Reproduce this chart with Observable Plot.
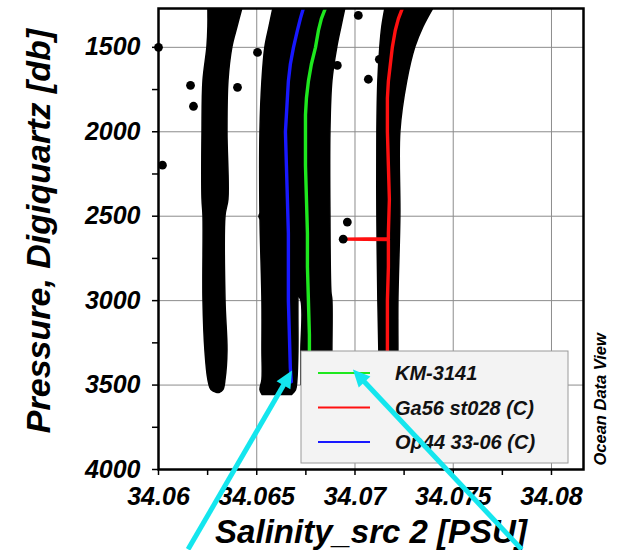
<!DOCTYPE html>
<html>
<head>
<meta charset="utf-8">
<script src="https://cdn.jsdelivr.net/npm/d3@7"></script>
<script src="https://cdn.jsdelivr.net/npm/@observablehq/plot@0.6"></script>
<style>
  html, body { margin: 0; padding: 0; background: white; }
  #chart { width: 621px; height: 550px; }
</style>
</head>
<body>
<div id="chart"></div>
<script>
// ---- axis ticks ----
const xTicks = [34.06, 34.065, 34.07, 34.075, 34.08];
const xTickLabels = ["34.06", "34.065", "34.07", "34.075", "34.08"];
const xMinorTicks = [34.0625, 34.0675, 34.0725, 34.0775];
const yTicks = [1500, 2000, 2500, 3000, 3500, 4000];
const yTickLabels = ["1500", "2000", "2500", "3000", "3500", "4000"];
const yMinorTicks = [1750, 2250, 2750, 3250, 3750];

// ---- black scatter clouds (left / right edge of the dense dots per pressure) ----
const cloudAPressure = [1270, 1380, 1500, 1700, 2000, 2400, 2500, 3000, 3300, 3470, 3530, 3547];
const cloudALeft  = [34.06254, 34.06254, 34.06249, 34.06229, 34.06224, 34.06224, 34.06229, 34.06229, 34.06239, 34.06254, 34.06270, 34.06300];
const cloudARight = [34.06427, 34.06402, 34.06376, 34.06356, 34.06351, 34.06356, 34.06341, 34.06341, 34.06351, 34.06341, 34.06330, 34.06310];

const cloudBPressure = [1270, 1380, 1500, 1700, 2000, 2500, 3000, 3300, 3470, 3530, 3559];
const cloudBLeft  = [34.06585, 34.06565, 34.06544, 34.06529, 34.06519, 34.06519, 34.06529, 34.06529, 34.06529, 34.06519, 34.06530];
const cloudBRight = [34.06800, 34.06780, 34.06760, 34.06730, 34.06720, 34.06720, 34.06712, 34.06712, 34.06707, 34.06700, 34.06680];

const cloudCPressure = [1270, 1380, 1500, 1700, 2000, 2500, 2950, 3000, 3300, 3500];
const cloudCLeft  = [34.06760, 34.06740, 34.06720, 34.06710, 34.06700, 34.06700, 34.06700, 34.06727, 34.06727, 34.06727];
const cloudCRight = [34.06951, 34.06931, 34.06910, 34.06885, 34.06875, 34.06875, 34.06880, 34.06885, 34.06885, 34.06885];

const cloudDPressure = [1270, 1380, 1500, 1700, 2000, 2500, 3000, 3300, 3500];
const cloudDLeft  = [34.07155, 34.07139, 34.07129, 34.07119, 34.07114, 34.07114, 34.07119, 34.07124, 34.07124];
const cloudDRight = [34.07399, 34.07348, 34.07307, 34.07266, 34.07231, 34.07231, 34.07221, 34.07221, 34.07221];

// ---- isolated black points ----
const outlierSalinity = [34.0600, 34.0602, 34.06163, 34.06178, 34.06402, 34.06504, 34.0653, 34.07017, 34.0691, 34.07068, 34.06961, 34.0694, 34.07124];
const outlierPressure = [1500, 2198, 1725, 1849, 1737, 1530, 2500, 1311, 1607, 1689, 2535, 2636, 1571];

// ---- station profiles ----
const km3141Pressure = [1270, 1330, 1400, 1500, 1600, 1700, 1800, 1900, 2000, 2200, 2400, 2600, 2800, 3000, 3200, 3400];
const km3141Salinity = [34.06849, 34.06829, 34.06814, 34.06799, 34.06778, 34.06763, 34.06753, 34.06748, 34.06748, 34.06748, 34.06753, 34.06758, 34.06758, 34.06763, 34.06768, 34.06768];

const ga56Pressure = [1270, 1330, 1400, 1500, 1600, 1700, 1800, 2000, 2200, 2400, 2600, 2633, 2636, 2639, 2800, 3000, 3200, 3400];
const ga56Salinity = [34.07241, 34.07221, 34.07205, 34.07190, 34.07180, 34.07170, 34.07165, 34.07165, 34.07170, 34.07175, 34.07170, 34.07170, 34.06941, 34.07170, 34.07170, 34.07165, 34.07165, 34.07165];

const op44Pressure = [1270, 1330, 1400, 1500, 1600, 1700, 1800, 1900, 2000, 2200, 2400, 2600, 2800, 3000, 3200, 3400, 3480];
const op44Salinity = [34.06737, 34.06722, 34.06707, 34.06687, 34.06671, 34.06661, 34.06656, 34.06651, 34.06646, 34.06651, 34.06656, 34.06661, 34.06661, 34.06661, 34.06666, 34.06671, 34.06676];

// ---- legend ----
const legendLabels = ["KM-3141", "Ga56 st028 (C)", "Op44 33-06 (C)"];
const legendColors = ["#1ee81e", "#ff1010", "#1818ff"];

// ---- annotation arrows (tail salinity/pressure -> head salinity/pressure) ----
const arrowTailSalinity = [34.06153, 34.07851];
const arrowTailPressure = [4476, 4476];
const arrowHeadSalinity = [34.06682, 34.06992];
const arrowHeadPressure = [3417, 3411];

// build tables
const cloud = (P, L, R) => P.map((p, i) => ({p, l: L[i], r: R[i]}));
const prof = (P, S) => P.map((p, i) => ({p, s: S[i]}));
const clouds = [
  cloud(cloudAPressure, cloudALeft, cloudARight),
  cloud(cloudBPressure, cloudBLeft, cloudBRight),
  cloud(cloudCPressure, cloudCLeft, cloudCRight),
  cloud(cloudDPressure, cloudDLeft, cloudDRight)
];
const outliers = outlierSalinity.map((s, i) => ({s, p: outlierPressure[i]}));
const profiles = [
  {data: prof(km3141Pressure, km3141Salinity), color: legendColors[0]},
  {data: prof(ga56Pressure, ga56Salinity), color: legendColors[1]},
  {data: prof(op44Pressure, op44Salinity), color: legendColors[2]}
];

const FONT = "'Liberation Sans', Arial, sans-serif";

const chart = Plot.plot({
  width: 621,
  height: 550,
  marginLeft: 158,
  marginRight: 38,
  marginTop: 8,
  marginBottom: 81,
  style: {fontFamily: FONT, fontWeight: "bold", fontStyle: "italic", background: "white", color: "black"},
  x: {domain: [34.06, 34.08163]},
  y: {domain: [1270, 4000], reverse: true},
  marks: [
    Plot.gridX(xTicks, {stroke: "#8c8c8c", strokeOpacity: 1, strokeWidth: 1}),
    Plot.gridY(yTicks, {stroke: "#8c8c8c", strokeOpacity: 1, strokeWidth: 1}),
    ...clouds.map(c => Plot.areaX(c, {y: "p", x1: "l", x2: "r", fill: "black", stroke: "black", strokeWidth: 1.5, strokeLinejoin: "round", curve: "catmull-rom", clip: true})),
    ...profiles.map(pr => Plot.line(pr.data, {x: "s", y: "p", stroke: pr.color, strokeWidth: 3.4, clip: true})),
    Plot.dot(outliers, {x: "s", y: "p", r: 4.4, fill: "black"}),
    Plot.frame({stroke: "black", strokeWidth: 2.5}),
    Plot.axisX({ticks: xTicks, tickFormat: d => xTickLabels[xTicks.indexOf(d)], tickSize: 6, tickPadding: 12, fontSize: 25, label: null, strokeWidth: 1.5}),
    Plot.axisX({ticks: xMinorTicks, tickFormat: () => "", tickSize: 6, label: null, strokeWidth: 1.5}),
    Plot.axisY({ticks: yTicks, tickFormat: d => yTickLabels[yTicks.indexOf(d)], tickSize: 6, tickPadding: 12, fontSize: 25, label: null, strokeWidth: 1.5}),
    Plot.axisY({ticks: yMinorTicks, tickFormat: () => "", tickSize: 6, label: null, strokeWidth: 1.5}),
    Plot.text(["Salinity_src 2 [PSU]"], {frameAnchor: "bottom", text: d => d, textAnchor: "middle", lineAnchor: "bottom", dy: 73, fontSize: 33, fill: "black"}),
    Plot.text(["Pressure, Digiquartz [db]"], {frameAnchor: "left", text: d => d, rotate: -90, textAnchor: "middle", lineAnchor: "middle", dx: -119, dy: -8, fontSize: 34, fill: "black"}),
    Plot.text(["Ocean Data View"], {frameAnchor: "bottom-right", text: d => d, rotate: -90, textAnchor: "start", lineAnchor: "middle", dx: 17, dy: -4, fontSize: 16.5, fill: "black"})
  ]
});

document.getElementById("chart").appendChild(chart);

// overlay: legend box and arrows
const svg = d3.select(chart);
const lg = svg.append("g").attr("class", "legend");
lg.append("rect").attr("x", 301).attr("y", 351).attr("width", 267).attr("height", 112)
  .attr("fill", "#f3f3f3").attr("stroke", "#9a9a9a").attr("stroke-width", 1);
legendLabels.forEach((lab, i) => {
  const yy = 373 + i * 34.5;
  lg.append("line").attr("x1", 318).attr("x2", 370).attr("y1", yy).attr("y2", yy)
    .attr("stroke", legendColors[i]).attr("stroke-width", 2);
  lg.append("text").attr("x", 395).attr("y", yy + 7).text(lab)
    .attr("text-anchor", "start")
    .attr("font-family", FONT).attr("font-weight", "bold").attr("font-style", "italic")
    .attr("font-size", 20).attr("fill", "#111");
});

const sx = chart.scale("x"), sy = chart.scale("y");
const ag = svg.append("g").attr("class", "arrows");
arrowTailSalinity.forEach((_, i) => {
  const x0 = sx.apply(arrowTailSalinity[i]), y0 = sy.apply(arrowTailPressure[i]);
  const x1 = sx.apply(arrowHeadSalinity[i]), y1 = sy.apply(arrowHeadPressure[i]);
  const dx = x1 - x0, dy = y1 - y0, len = Math.hypot(dx, dy);
  const ux = dx / len, uy = dy / len, px = -uy, py = ux;
  const hl = 17, hw = 8;
  const bx = x1 - ux * hl, by = y1 - uy * hl;
  ag.append("line").attr("x1", x0).attr("y1", y0).attr("x2", bx + ux * 2).attr("y2", by + uy * 2)
    .attr("stroke", "#14e6ee").attr("stroke-width", 5);
  ag.append("polygon")
    .attr("points", `${x1},${y1} ${bx + px * hw},${by + py * hw} ${bx - px * hw},${by - py * hw}`)
    .attr("fill", "#14e6ee");
});
</script>
</body>
</html>
